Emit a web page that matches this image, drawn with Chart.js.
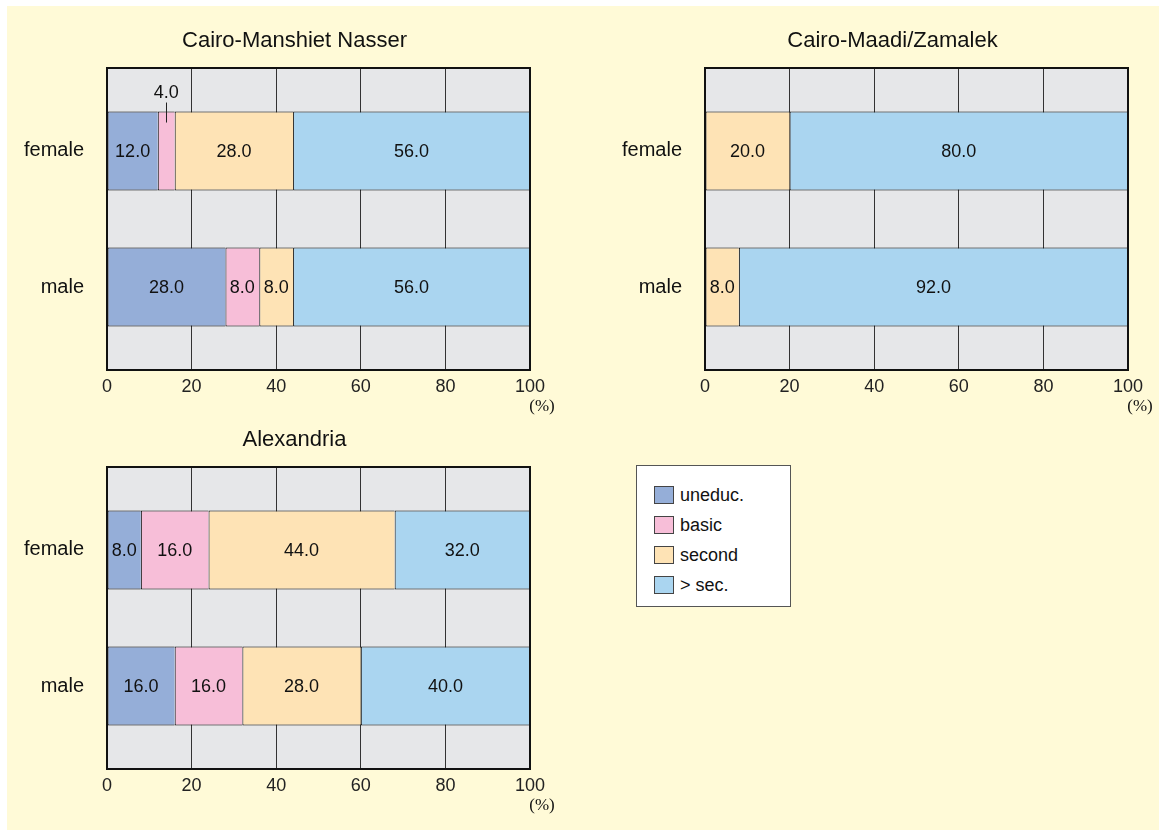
<!DOCTYPE html>
<html>
<head>
<meta charset="utf-8">
<script src="https://cdn.jsdelivr.net/npm/chart.js@4/dist/chart.umd.min.js"></script>
<style>
  body { margin: 0; background: #fff; font-family: "Liberation Sans", Arial, sans-serif; }
  #page { position: absolute; left: 7px; top: 6px; width: 1152px; height: 824px; background: #fffad7; }
  canvas { position: absolute; }
  #legend { position: absolute; left: 636px; top: 465px; width: 155px; height: 142px; background: #fff;
            border: 1px solid #555; box-sizing: border-box; padding-top: 14px; }
  .item { height: 30px; display: flex; align-items: center; padding-left: 17px; font-size: 18px; color: #111; }
  .sw { width: 18px; height: 16px; border: 1px solid #444; margin-right: 6px; }
</style>
</head>
<body>
<div id="page"></div>
<canvas id="c1" width="560" height="420" style="left:7px;top:6px"></canvas>
<canvas id="c2" width="560" height="420" style="left:600px;top:6px"></canvas>
<canvas id="c3" width="560" height="420" style="left:7px;top:405px"></canvas>
<div id="legend"></div>
<script>
const groups = ['female', 'male'];
const levels = ['uneduc.', 'basic', 'second', '> sec.'];
const colors = ['#95aed8', '#f7bed8', '#fee3b5', '#aad5f0'];
const xTicks = [0, 20, 40, 60, 80, 100];

const manshietFemale = [12, 4, 28, 56];
const manshietMale = [28, 8, 8, 56];
const maadiFemale = [0, 0, 20, 80];
const maadiMale = [0, 0, 8, 92];
const alexFemale = [8, 16, 44, 32];
const alexMale = [16, 16, 28, 40];

const panelPlugin = {
  id: 'panel',
  beforeDraw(chart) {
    const a = chart.chartArea, ctx = chart.ctx;
    ctx.save();
    ctx.fillStyle = '#e6e7e9';
    ctx.fillRect(a.left, a.top, a.right - a.left, a.bottom - a.top);
    ctx.restore();
  },
  afterDatasetsDraw(chart) {
    const ctx = chart.ctx;
    ctx.save();
    ctx.font = '18px "Liberation Sans", Arial';
    ctx.fillStyle = '#111';
    ctx.strokeStyle = '#222';
    ctx.lineWidth = 1;
    ctx.textAlign = 'center';
    ctx.textBaseline = 'middle';
    chart.data.datasets.forEach((ds, i) => {
      chart.getDatasetMeta(i).data.forEach((el, j) => {
        const v = ds.data[j].x;
        if (!v) return;
        const txt = v.toFixed(1);
        const cx = (el.x + el.base) / 2;
        const w = Math.abs(el.x - el.base);
        if (ctx.measureText(txt).width < w - 4) {
          ctx.fillText(txt, cx, el.y + 1);
        } else {
          // too narrow: label goes above the bar with a leader line
          const top = el.y - el.height / 2;
          ctx.fillText(txt, cx, top - 19);
          ctx.beginPath();
          ctx.moveTo(Math.round(cx) + 0.5, top - 9);
          ctx.lineTo(Math.round(cx) + 0.5, top + 11);
          ctx.stroke();
        }
      });
    });
    ctx.restore();
  },
  afterDraw(chart) {
    const a = chart.chartArea, ctx = chart.ctx;
    ctx.save();
    ctx.strokeStyle = '#111';
    ctx.lineWidth = 2;
    ctx.strokeRect(a.left, a.top, a.right - a.left, a.bottom - a.top);
    ctx.fillStyle = '#111';
    ctx.textAlign = 'center';
    ctx.textBaseline = 'middle';
    ctx.font = '22px "Liberation Sans", Arial';
    ctx.fillText(chart.options.plugins.panel.title, (a.left + a.right) / 2 - 24, a.top - 27);
    ctx.font = '17px "Liberation Serif", serif';
    ctx.fillText('(%)', a.right + 12, a.bottom + 37);
    ctx.restore();
  }
};

function buildChart(id, title, female, male, yWidth, padRight) {
  const datasets = levels.map((lv, i) => ({
    label: lv,
    data: [{ y: 1, x: female[i] }, { y: 2, x: male[i] }],
    stack: 'all',
    backgroundColor: colors[i],
    borderColor: '#000',
    borderWidth: { top: 1, bottom: 1, left: 1, right: 0 },
    borderSkipped: false,
    barPercentage: 0.58,
    categoryPercentage: 1
  }));

  new Chart(document.getElementById(id), {
    type: 'bar',
    data: { datasets: datasets },
    options: {
      indexAxis: 'y',
      responsive: false,
      animation: false,
      layout: { padding: { top: 62, bottom: 16, left: 0, right: padRight } },
      plugins: {
        legend: { display: false },
        tooltip: { enabled: false },
        panel: { title: title }
      },
      scales: {
        x: {
          type: 'linear',
          stacked: true,
          min: 0,
          max: 100,
          afterBuildTicks: s => { s.ticks = xTicks.map(v => ({ value: v })); },
          afterFit: s => { s.height = 40; },
          ticks: { font: { size: 18, family: '"Liberation Sans", Arial' }, color: '#222', padding: 6 },
          grid: { color: '#333', drawTicks: false },
          border: { display: false }
        },
        y: {
          type: 'linear',
          reverse: true,
          offset: false,
          min: 0.39,
          max: 2.61,
          afterBuildTicks: s => { s.ticks = groups.map((g, i) => ({ value: i + 1 })); },
          afterFit: s => { s.width = yWidth; },
          ticks: {
            callback: v => groups[v - 1],
            font: { size: 20, family: '"Liberation Sans", Arial' },
            color: '#111',
            padding: 15
          },
          grid: { display: false },
          border: { display: false }
        }
      }
    },
    plugins: [panelPlugin]
  });
}

buildChart('c1', 'Cairo-Manshiet Nasser', manshietFemale, manshietMale, 100, 37);
buildChart('c2', 'Cairo-Maadi/Zamalek', maadiFemale, maadiMale, 105, 32);
buildChart('c3', 'Alexandria', alexFemale, alexMale, 100, 37);

const legend = document.getElementById('legend');
levels.forEach((lv, i) => {
  const row = document.createElement('div');
  row.className = 'item';
  const sw = document.createElement('span');
  sw.className = 'sw';
  sw.style.background = colors[i];
  row.appendChild(sw);
  row.appendChild(document.createTextNode(lv));
  legend.appendChild(row);
});
</script>
</body>
</html>
